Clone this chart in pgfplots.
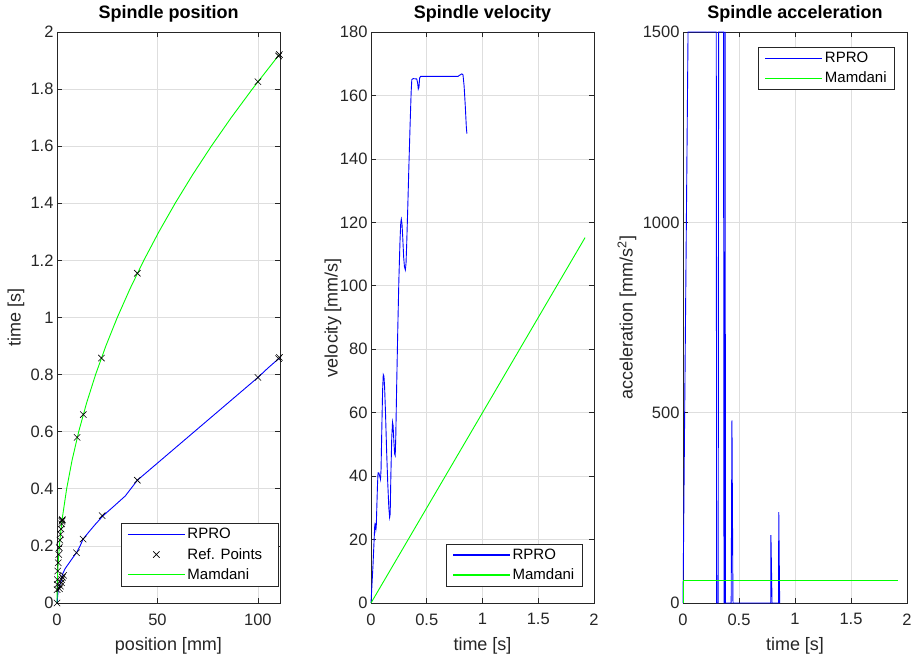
\documentclass[border=0pt]{standalone}
\usepackage{fontspec}
\setmainfont{Liberation Sans}
\usepackage{pgfplots}
\pgfplotsset{compat=1.18}
\definecolor{axgray}{gray}{0.15}
\definecolor{gridgray}{gray}{0.87}
\definecolor{rpro}{rgb}{0,0,1}
\definecolor{mamdani}{rgb}{0,1,0}

\pgfplotsset{
  mat/.style={
    scale only axis,
    clip=false,
    tick align=inside,
    major tick length=5pt,
    xmajorgrids, ymajorgrids,
    grid style={gridgray, line width=0.7pt},
    axis line style={axgray, line width=0.7pt},
    tick style={axgray, line width=0.7pt},
    ticklabel style={font=\fontsize{16.5}{19}\selectfont, text=axgray},
    xticklabel style={yshift=-7pt},
    label style={font=\fontsize{18}{21}\selectfont, text=axgray},
    title style={font=\bfseries\fontsize{18}{21}\selectfont, at={(0.5,1)}, anchor=south, yshift=0pt},
    /pgf/number format/assume math mode=true,
    /pgf/number format/1000 sep={},
    legend cell align=left,
    legend image code/.code={\draw[mark repeat=2,mark phase=2,##1,line width=1.2pt] plot coordinates {(0pt,0pt) (28.5pt,0pt) (57pt,0pt)};},
    legend style={font=\fontsize{15}{17}\selectfont, draw=axgray, line width=0.6pt, fill=white,
      inner xsep=6pt, inner ysep=3pt, row sep=4pt},
  },
  rp/.style={draw=rpro, line width=0.9pt},
  md/.style={draw=mamdani, line width=0.9pt},
}

\begin{document}
\begin{tikzpicture}
\path[use as bounding box] (0pt,0pt) rectangle (912pt,657pt);

% position
\begin{axis}[mat, at={(57pt,54pt)}, anchor=south west, width=223pt, height=571pt,
  xmin=0, xmax=111, ymin=0, ymax=2,
  xtick={0,50,100}, ytick={0,0.2,0.4,0.6,0.8,1,1.2,1.4,1.6,1.8,2},
  title={Spindle position}, xlabel={position [mm]}, ylabel={time [s]},
  xlabel style={at={(axis description cs:0.5,-0.075)}, anchor=center},
  ylabel style={at={(axis description cs:-0.184,0.5)}, anchor=center},
  legend style={at={(0.995,0.140)}, anchor=north east}]
\addplot[rp] coordinates {(0,0) (0.6,0.045) (1.5,0.065) (2.2,0.08) (2.7,0.1) (4,0.12) (6,0.14) (8,0.16) (9.7,0.176) (11.5,0.2) (13,0.224) (16,0.25) (19,0.275) (23,0.306) (28,0.337) (34,0.375) (40,0.43) (50,0.49) (60,0.55) (70,0.61) (80,0.67) (90,0.73) (100,0.79) (105,0.823) (111,0.86)};
\addplot[only marks, mark=x, mark size=4.5pt, draw=black, line width=0.6pt,
  legend image code/.code={\draw[black, line width=0.6pt] plot[mark=x, mark size=4.5pt] coordinates {(28.5pt,0pt)};}] coordinates {
  (0,0) (0.07,0.047) (0.13,0.065) (0.2,0.082) (0.38,0.112) (0.6,0.141) (0.87,0.17) (1.13,0.194) (1.45,0.22) (1.74,0.241) (2.01,0.259) (2.3,0.277) (2.45,0.286) (2.55,0.29) (2.65,0.292)
  (10,0.58) (13.1,0.66) (22.1,0.858) (40,1.155) (100,1.826) (110.3,1.916) (110.7,1.921)
  (1.2,0.05) (1.7,0.059) (2.2,0.071) (2.3,0.082) (2.7,0.09) (3.3,0.097) (9.7,0.176) (13,0.224) (22.5,0.306) (40,0.43) (100,0.79) (110.3,0.856) (110.7,0.86)};
\addplot[md] coordinates {(0,0) (0.075,0.05) (0.3,0.1) (0.675,0.15) (1.2,0.2) (1.875,0.25) (2.7,0.3) (4.8,0.4) (7.5,0.5) (10.8,0.6) (14.7,0.7) (19.2,0.8) (24.3,0.9) (30,1.0) (36.3,1.1) (43.2,1.2) (50.7,1.3) (58.8,1.4) (67.5,1.5) (76.8,1.6) (86.7,1.7) (97.2,1.8) (108.3,1.9) (110.7,1.921)};
\legend{RPRO, Ref. Points\hphantom{n}, Mamdani}
\end{axis}

% velocity
\begin{axis}[mat, at={(371pt,54pt)}, anchor=south west, width=223pt, height=571pt,
  xmin=0, xmax=2, ymin=0, ymax=180,
  xtick={0,0.5,1,1.5,2}, ytick={0,20,40,60,80,100,120,140,160,180},
  title={Spindle velocity}, xlabel={time [s]}, ylabel={velocity [mm/s]},
  xlabel style={at={(axis description cs:0.5,-0.075)}, anchor=center},
  ylabel style={at={(axis description cs:-0.17,0.5)}, anchor=center},
  legend style={at={(0.949,0.104)}, anchor=north east}]
\addplot[rp] coordinates {(0,0) (0.018,12) (0.033,24) (0.036,25) (0.04,24.8) (0.044,23.2) (0.047,24) (0.052,30) (0.058,37) (0.063,41) (0.07,41) (0.078,40) (0.085,39) (0.09,42) (0.097,55) (0.104,67) (0.11,72) (0.116,71.5) (0.122,68) (0.13,60) (0.14,48) (0.15,38) (0.16,30) (0.167,27) (0.172,28) (0.178,40) (0.186,52) (0.193,57) (0.198,56) (0.205,51) (0.212,47) (0.217,46.5) (0.222,52) (0.23,68) (0.24,86) (0.25,102) (0.26,114) (0.267,120) (0.272,121) (0.278,119.5) (0.285,115) (0.293,109) (0.3,106) (0.308,105) (0.314,107) (0.32,113) (0.33,125) (0.34,138) (0.35,150) (0.36,161) (0.366,165) (0.378,165.3) (0.41,165.2) (0.418,164) (0.424,162) (0.43,162.5) (0.436,165.5) (0.445,166) (0.5,166) (0.6,166) (0.7,166) (0.78,166) (0.8,166.5) (0.815,166.8) (0.825,166.5) (0.835,163) (0.845,157) (0.855,150) (0.86,148)};
\addplot[md] coordinates {(0,0) (1.92,115.2)};
\legend{RPRO, Mamdani}
\end{axis}

% acceleration
\begin{axis}[mat, at={(683pt,54pt)}, anchor=south west, width=224pt, height=571pt,
  xmin=0, xmax=2, ymin=0, ymax=1500,
  xtick={0,0.5,1,1.5,2}, ytick={0,500,1000,1500},
  title={Spindle acceleration}, xlabel={time [s]}, ylabel={acceleration [mm/s\textsuperscript{2}]},
  xlabel style={at={(axis description cs:0.5,-0.075)}, anchor=center},
  ylabel style={at={(axis description cs:-0.25,0.5)}, anchor=center},
  legend style={at={(0.946,0.974)}, anchor=north east}]
\addplot[rp] coordinates {(0,0) (0.045,1500) (0.297,1500) (0.300,0) (0.314,0) (0.318,1500) (0.362,1500) (0.366,0) (0.372,0) (0.376,1500) (0.379,0) (0.43,0) (0.437,480) (0.446,0) (0.783,0) (0.785,178) (0.795,0) (0.853,0) (0.855,239) (0.863,0)};
\addplot[md] coordinates {(0,0) (0,58) (1.92,58)};
\legend{RPRO, Mamdani}
\end{axis}
\end{tikzpicture}
\end{document}
